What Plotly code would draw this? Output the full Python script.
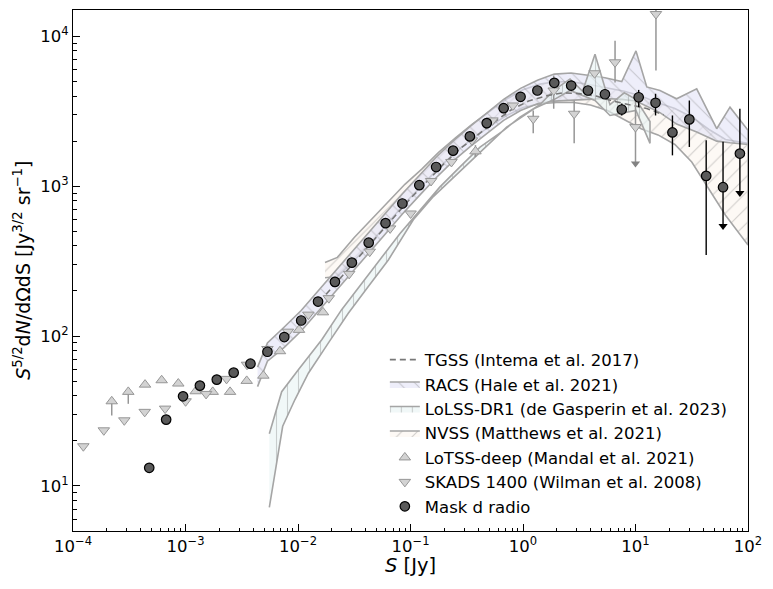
import math
import plotly.graph_objects as go

# ---------------- data ----------------
# Mask d radio (dark circles)
mask_S = [4.76e-4, 6.73e-4, 9.51e-4, 1.343e-3, 1.897e-3, 2.68e-3, 3.78e-3, 5.35e-3, 7.55e-3,
          0.01067, 0.01507, 0.0213, 0.0301, 0.0425, 0.060, 0.0847, 0.1197, 0.169, 0.239,
          0.337, 0.476, 0.673, 0.951, 1.343, 1.897, 2.68, 3.78, 5.35, 7.55, 10.67, 15.07,
          21.3, 30.1, 42.5, 60.0, 84.7]
mask_val = [13.2, 27.7, 39.6, 46.7, 51.2, 57.0, 65.4, 78.6, 98.5, 127, 170, 230, 309, 420,
            567, 767, 1016, 1344, 1728, 2151, 2637, 3318, 3953, 4352, 4898, 4698, 4352, 4111,
            3252, 3925, 3605, 2286, 2793, 1172, 985, 1652]
mask_err_plus = [0, 0, 0, 0, 0, 0, 0, 0, 0, 0, 0, 0, 0, 0, 0, 0, 0, 0, 0, 0, 0, 0, 0, 0,
                 0, 0, 0, 0, 313, 469, 535, 680, 940, 852, 998, 1636]
mask_err_minus = [0, 0, 0, 0, 0, 0, 0, 0, 0, 0, 0, 0, 0, 0, 0, 0, 0, 0, 0, 0, 0, 0, 0, 0,
                  0, 0, 0, 0, 286, 552, 639, 679, 965, 824, 443, 750]
mask_ul_S = [60.0, 84.7]
mask_ul_tip = [542, 902]

# SKADS 1400 (Wilman et al. 2008)
skads_S = [1.236e-4, 1.879e-4, 2.858e-4, 4.34e-4, 6.59e-4, 1.002e-3, 1.524e-3, 2.317e-3,
           3.52e-3, 5.35e-3, 8.13e-3, 0.01236, 0.01879, 0.0285, 0.0434, 0.0659, 0.1002,
           0.1524, 0.2312, 0.3516, 0.535, 0.813, 1.233, 1.875, 2.85, 4.33, 6.58, 10.0, 15.2]
skads_val = [18.4, 23.5, 27.4, 31.2, 32.8, 36.7, 41.1, 51.8, 64.4, 82, 107, 139, 179, 260,
             366, 523, 658, 1084, 1452, 2024, 2750, 3459, 2820, 4352, 3047, 5675, 6714,
             2481, 14100]
skads_err_plus = [0, 0, 0, 0, 0, 0, 0, 0, 0, 0, 0, 0, 0, 0, 0, 0, 0, 0, 0, 0, 0, 0,
                  386, 1128, 686, 0, 2646, 1252, 20000]
skads_err_minus = [0, 0, 0, 0, 0, 0, 0, 0, 0, 0, 0, 0, 0, 0, 0, 0, 0, 0, 0, 0, 0, 0,
                   567, 1062, 1115, 0, 1794, 1065, 8190]
skads_ul_S = [10.0]
skads_ul_tip = [1416]

# LoTSS-deep (Mandal et al. 2021)
lotss_S = [2.21e-4, 3.10e-4, 4.37e-4, 6.14e-4, 8.63e-4, 1.233e-3, 1.746e-3, 2.49e-3,
           3.50e-3, 4.92e-3, 6.92e-3, 0.01021, 0.01667, 0.378]
lotss_val = [36.7, 42.4, 47.4, 50.7, 48.2, 42.8, 42.4, 42.4, 50.2, 54.4, 79.2, 110, 144, 1709]
lotss_err_plus = [0, 0, 0, 0, 0, 0, 0, 0, 0, 0, 0, 0, 0, 171]
lotss_err_minus = [7.2, 7.1, 0, 0, 0, 0, 0, 0, 0, 0, 0, 0, 0, 142]

# TGSS (Intema et al. 2017)
tgss_S = [0.01778, 0.02512, 0.03548, 0.05012, 0.07079, 0.1, 0.1413, 0.1995, 0.2818, 0.3981,
          0.5623, 0.7943, 1.122, 1.585, 2.239, 3.162, 4.467, 6.31, 8.913, 12.59, 17.78]
tgss_val = [190, 255, 345, 465, 620, 830, 1080, 1420, 1800, 2200, 2700, 3250, 3700, 4000,
            4200, 4150, 4000, 3700, 3500, 3300, 3000]

# RACS (Hale et al. 2021) band
racs_S = [4.37e-3, 5.35e-3, 7.55e-3, 0.01067, 0.01507, 0.0213, 0.0301, 0.0425, 0.060, 0.0847,
          0.1197, 0.169, 0.239, 0.337, 0.476, 0.673, 0.951, 1.343, 1.897, 2.68, 3.78, 5.35,
          7.55, 10.1, 12.6, 16.5, 23.2, 35.0, 52.7, 69.2, 100.0]
racs_hi = [62, 90, 115, 148, 200, 270, 362, 490, 660, 890, 1180, 1560, 2000, 2500, 3080,
           3800, 4500, 5100, 5600, 5700, 5500, 5300, 5000, 8000, 4600, 4350, 3830, 4470,
           2420, 3370, 2360]
racs_lo = [46, 68, 84, 108, 145, 196, 262, 357, 482, 652, 865, 1140, 1470, 1830, 2240, 2750,
           3200, 3550, 3700, 3750, 3800, 3850, 3800, 3700, 3400, 3100, 2600, 2300, 2000,
           1950, 1900]

# LoLSS-DR1 (de Gasperin et al. 2023) band
lolss_hi_S = [5.56e-3, 7.16e-3, 0.01007, 0.01626, 0.02443, 0.03681, 0.05546, 0.0807, 0.1213,
              0.1828, 0.2754, 0.4150, 0.6683, 0.9397, 1.413, 1.905, 2.618, 3.388, 4.365,
              5.93, 7.943, 10.09, 13.46]
lolss_hi = [22.3, 42.5, 59.6, 94.6, 150, 225, 338, 484, 690, 990, 1345, 1825, 2350, 2890,
            3500, 4400, 5200, 4300, 7600, 3500, 4200, 3800, 2700]
lolss_lo_S = [5.56e-3, 7.31e-3, 9.40e-3, 0.01236, 0.01858, 0.02799, 0.04217, 0.06353, 0.1059,
              0.1596, 0.2399, 0.3614, 0.5445, 0.7161, 1.259, 1.905, 2.618, 4.365, 5.93,
              10.09, 13.46]
lolss_lo = [7.2, 25, 37.7, 56.5, 89.7, 142, 214, 322, 597, 853, 1130, 1530, 2040, 2480, 3300,
            3800, 4356, 3735, 2965, 3200, 1933]

# NVSS (Matthews et al. 2021) band
nvss_S = [0.01738, 0.02239, 0.03162, 0.04467, 0.0631, 0.08913, 0.1259, 0.1778, 0.2512,
          0.3548, 0.5012, 0.7079, 1.0, 1.413, 1.995, 2.818, 3.981, 5.623, 7.943, 11.22,
          15.85, 22.39, 31.62, 44.67, 63.1, 100.0]
nvss_hi = [310, 335, 455, 600, 790, 1030, 1300, 1680, 2100, 2600, 3150, 3800, 4400, 4800,
           5000, 4950, 4750, 4500, 4300, 4000, 3600, 3300, 2900, 2400, 2050, 1930]
nvss_lo = [245, 250, 320, 420, 570, 770, 1010, 1320, 1690, 2080, 2500, 2950, 3350, 3550,
           3620, 3620, 3480, 3200, 2800, 2420, 2200, 1900, 1450, 960, 640, 405]

x_tick_vals = [1e-4, 1e-3, 1e-2, 1e-1, 1e0, 1e1, 1e2]
x_tick_text = ["10<sup>−4</sup>", "10<sup>−3</sup>", "10<sup>−2</sup>", "10<sup>−1</sup>",
               "10<sup>0</sup>", "10<sup>1</sup>", "10<sup>2</sup>"]
y_tick_vals = [1e1, 1e2, 1e3, 1e4]
y_tick_text = ["10<sup>1</sup>", "10<sup>2</sup>", "10<sup>3</sup>", "10<sup>4</sup>"]

x_title = "<i>S</i> [Jy]"
y_title = "<i>S</i><sup>5/2</sup>d<i>N</i>/dΩdS [Jy<sup>3/2</sup> sr<sup>−1</sup>]"

# ---------------- figure ----------------
FONT = "DejaVu Sans"
EDGE = "rgb(165,165,165)"
fig = go.Figure()


def band(xs_hi, ys_hi, xs_lo, ys_lo, name, fill, shape, rank):
    fig.add_trace(go.Scatter(
        x=list(xs_hi) + list(xs_lo)[::-1],
        y=list(ys_hi) + list(ys_lo)[::-1],
        mode="lines", fill="toself", name=name, legendrank=rank,
        line=dict(color=EDGE, width=1.6),
        fillcolor=fill,
        fillpattern=dict(shape=shape, fgcolor="rgba(125,125,125,0.7)", bgcolor=fill,
                         size=11, solidity=0.1),
    ))


band(nvss_S, nvss_hi, nvss_S, nvss_lo, "NVSS (Matthews et al. 2021)",
     "rgba(251,245,238,0.6)", "/", 4)
band(racs_S, racs_hi, racs_S, racs_lo, "RACS (Hale et al. 2021)",
     "rgba(226,226,246,0.6)", "\\", 2)
band(lolss_hi_S, lolss_hi, lolss_lo_S, lolss_lo, "LoLSS-DR1 (de Gasperin et al. 2023)",
     "rgba(232,244,244,0.6)", "|", 3)

fig.add_trace(go.Scatter(
    x=tgss_S, y=tgss_val, mode="lines", name="TGSS (Intema et al. 2017)", legendrank=1,
    line=dict(color="rgb(120,120,120)", width=1.6, dash="6px,4px"),
))

fig.add_trace(go.Scatter(
    x=lotss_S, y=lotss_val, mode="markers", name="LoTSS-deep (Mandal et al. 2021)",
    legendrank=5,
    marker=dict(symbol="triangle-up", size=10, color="rgb(211,211,211)",
                line=dict(color="rgb(150,150,150)", width=1)),
    error_y=dict(type="data", symmetric=False, array=lotss_err_plus,
                 arrayminus=lotss_err_minus, color="rgb(150,150,150)", thickness=1.5,
                 width=0),
))

fig.add_trace(go.Scatter(
    x=skads_S, y=skads_val, mode="markers", name="SKADS 1400 (Wilman et al. 2008)",
    legendrank=6,
    marker=dict(symbol="triangle-down", size=10, color="rgb(211,211,211)",
                line=dict(color="rgb(150,150,150)", width=1)),
    error_y=dict(type="data", symmetric=False, array=skads_err_plus,
                 arrayminus=skads_err_minus, color="rgb(150,150,150)", thickness=1.5,
                 width=0),
))
fig.add_trace(go.Scatter(
    x=skads_ul_S, y=skads_ul_tip, mode="markers", showlegend=False,
    marker=dict(symbol="triangle-down", size=8, color="rgb(130,130,130)"),
))

fig.add_trace(go.Scatter(
    x=mask_S, y=mask_val, mode="markers", name="Mask d radio", legendrank=7,
    marker=dict(symbol="circle", size=9.5, color="rgb(90,90,90)",
                line=dict(color="black", width=1.2)),
    error_y=dict(type="data", symmetric=False, array=mask_err_plus,
                 arrayminus=mask_err_minus, color="black", thickness=1.4, width=0),
))
fig.add_trace(go.Scatter(
    x=mask_ul_S, y=mask_ul_tip, mode="markers", showlegend=False,
    marker=dict(symbol="triangle-down", size=8, color="black"),
))

minor_x = [k * 10.0 ** n for n in range(-4, 2) for k in range(2, 10)]
minor_y = [k * 10.0 ** n for n in range(0, 5) for k in range(2, 10)]

axis_common = dict(type="log", ticks="inside", ticklen=7, tickwidth=1, tickcolor="black",
                   showline=True, linecolor="black", linewidth=1, mirror=True,
                   showgrid=False, zeroline=False, automargin=False,
                   tickfont=dict(size=16.5, color="black"))

# the page body adds an 8px offset, so the figure is 8px smaller and margins shifted
fig.update_layout(
    width=765, height=581,
    margin=dict(l=65, r=25, t=2, b=58),
    paper_bgcolor="white", plot_bgcolor="white",
    font=dict(family=FONT, color="black"),
    xaxis=dict(range=[-4, 2], tickvals=x_tick_vals, ticktext=x_tick_text,
               minor=dict(tickvals=minor_x, ticks="inside", ticklen=3.5,
                          tickcolor="black", showgrid=False),
               **axis_common),
    yaxis=dict(range=[math.log10(5), math.log10(15000)], tickvals=y_tick_vals,
               ticktext=y_tick_text,
               minor=dict(tickvals=minor_y, ticks="inside", ticklen=3.5,
                          tickcolor="black", showgrid=False),
               **axis_common),
    legend=dict(x=0.462, y=0.362, xanchor="left", yanchor="top",
                bgcolor="rgba(0,0,0,0)", font=dict(size=16.5, family=FONT),
                itemwidth=30, traceorder="normal", tracegroupgap=0),
    annotations=[
        dict(text=x_title, xref="paper", yref="paper", x=0.5, y=-0.066,
             xanchor="center", yanchor="middle", showarrow=False,
             font=dict(size=19.5, family=FONT, color="black")),
        dict(text=y_title, xref="paper", yref="paper", x=-0.0765, y=0.5,
             xanchor="center", yanchor="middle", textangle=-90, showarrow=False,
             font=dict(size=19, family=FONT, color="black")),
    ],
    showlegend=True,
)

fig.write_html("out.html")
